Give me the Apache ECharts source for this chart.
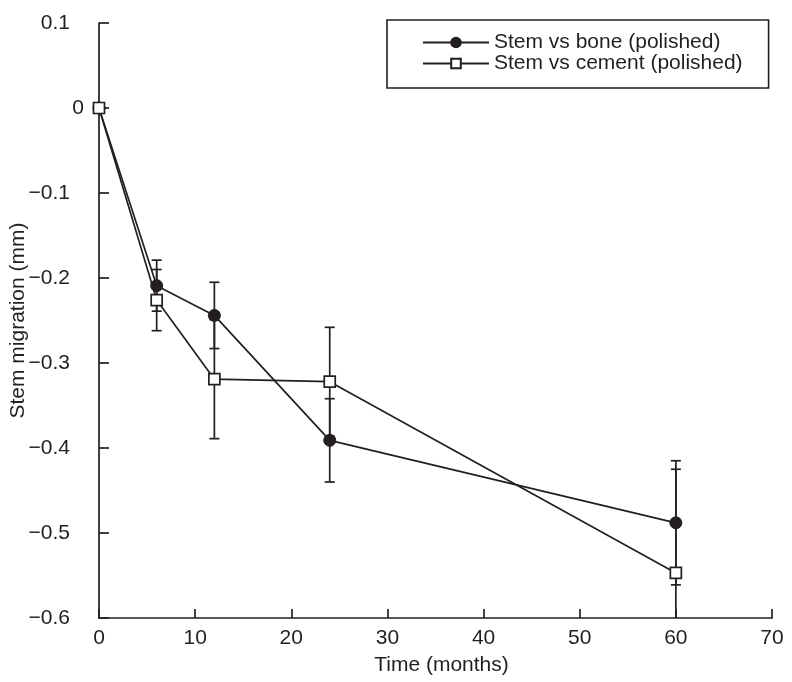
<!DOCTYPE html>
<html><head><meta charset="utf-8">
<script src="https://cdn.jsdelivr.net/npm/echarts@6/dist/echarts.min.js"></script>
<style>html,body{margin:0;padding:0;background:#fff}#c{width:792px;height:682px}</style>
</head><body><div id="c"></div>
<script>
const months = [0, 6, 12, 24, 60];
const boneMean = [0, -0.209, -0.244, -0.391, -0.488];
const boneErr = [0, 0.030, 0.039, 0.049, 0.073];
const cementMean = [0, -0.226, -0.319, -0.322, -0.547];
const cementErr = [0, 0.036, 0.070, 0.064, 0.122];
const xTicks = [0, 10, 20, 30, 40, 50, 60, 70];
const yTicks = [0.1, 0, -0.1, -0.2, -0.3, -0.4, -0.5, -0.6];

const FONT = 'Liberation Sans, Arial, sans-serif';
const INK = '#231f20';
const FS = 21;

function errData(mean, err) {
  return months.map((m, i) => [m, mean[i] - err[i], mean[i] + err[i]]).filter((d, i) => err[i] > 0);
}
function errRender(params, api) {
  const cs = params.coordSys;
  const x = api.coord([api.value(0), 0])[0];
  let yLo = api.coord([0, api.value(1)])[1];
  let yHi = api.coord([0, api.value(2)])[1];
  const top = cs.y, bot = cs.y + cs.height;
  const children = [];
  const loClipped = yLo > bot, hiClipped = yHi < top;
  yLo = Math.min(yLo, bot); yHi = Math.max(yHi, top);
  const st = { stroke: INK, lineWidth: 1.7 };
  children.push({ type: 'line', shape: { x1: x, y1: yLo, x2: x, y2: yHi }, style: st });
  const hw = 5;
  if (!loClipped) children.push({ type: 'line', shape: { x1: x - hw, y1: yLo, x2: x + hw, y2: yLo }, style: st });
  if (!hiClipped) children.push({ type: 'line', shape: { x1: x - hw, y1: yHi, x2: x + hw, y2: yHi }, style: st });
  return { type: 'group', children };
}

const chart = echarts.init(document.getElementById('c'), null, { renderer: 'canvas' });
chart.setOption({
  animation: false,
  backgroundColor: '#fff',
  textStyle: { fontFamily: FONT, color: INK },
  grid: { left: 99, right: 20, top: 23, bottom: 64, containLabel: false, outerBoundsMode: 'none' },
  legend: {
    orient: 'vertical', left: 387, top: 20,
    padding: [12, 26, 14, 35], itemGap: 0,
    itemWidth: 66, itemHeight: 12,
    borderColor: INK, borderWidth: 1.6, borderRadius: 0,
    textStyle: { fontFamily: FONT, fontSize: FS, lineHeight: 20, color: INK },
    data: ['Stem vs bone (polished)', 'Stem vs cement (polished)']
  },
  xAxis: {
    type: 'value', min: 0, max: 70, interval: 10,
    name: 'Time (months)', nameLocation: 'middle', nameGap: 37, nameMoveOverlap: false,
    nameTextStyle: { fontFamily: FONT, fontSize: FS, color: INK, padding: [0, 0, 0, 12] },
    axisLine: { onZero: false, lineStyle: { color: INK, width: 1.7 } },
    axisTick: { inside: true, length: 9, lineStyle: { color: INK, width: 1.7 } },
    axisLabel: { fontFamily: FONT, fontSize: FS, color: INK, margin: 10,
      formatter: v => xTicks.includes(v) ? String(v) : '' },
    splitLine: { show: false }
  },
  yAxis: {
    type: 'value', min: -0.6, max: 0.1, interval: 0.1,
    name: 'Stem migration (mm)', nameLocation: 'middle', nameGap: 70, nameMoveOverlap: false,
    nameTextStyle: { fontFamily: FONT, fontSize: FS, color: INK },
    axisLine: { onZero: false, lineStyle: { color: INK, width: 1.7 } },
    axisTick: { inside: true, length: 10, lineStyle: { color: INK, width: 1.7 } },
    axisLabel: { fontFamily: FONT, fontSize: FS, color: INK, margin: 15,
      formatter: v => {
        const r = Math.round(v * 10) / 10;
        const t = yTicks.find(k => Math.abs(k - r) < 1e-9);
        if (t === undefined) return '';
        return t === 0 ? '{z|0}' : '{n|' + t.toFixed(1).replace('-', '\u2212') + '}';
      },
      rich: {
        z: { fontFamily: FONT, fontSize: FS, color: INK },
        n: { fontFamily: FONT, fontSize: FS, color: INK, padding: [0, 14, 0, 0] }
      } },
    splitLine: { show: false }
  },
  series: [
    { type: 'custom', name: 'errBone', renderItem: errRender, data: errData(boneMean, boneErr), z: 1, silent: true },
    { type: 'custom', name: 'errCement', renderItem: errRender, data: errData(cementMean, cementErr), z: 1, silent: true },
    {
      type: 'line', name: 'Stem vs bone (polished)',
      data: months.map((m, i) => [m, boneMean[i]]),
      symbol: 'circle', symbolSize: 12, showAllSymbol: true,
      lineStyle: { color: INK, width: 1.7 },
      itemStyle: { color: INK, borderColor: INK, borderWidth: 1 }, z: 3
    },
    {
      type: 'line', name: 'Stem vs cement (polished)',
      data: months.map((m, i) => [m, cementMean[i]]),
      symbol: 'rect', symbolSize: 11, showAllSymbol: true,
      lineStyle: { color: INK, width: 1.7 },
      itemStyle: { color: '#fff', borderColor: INK, borderWidth: 1.7 }, z: 4
    }
  ]
});
</script></body></html>
